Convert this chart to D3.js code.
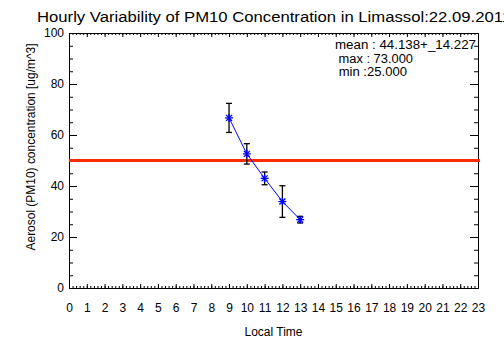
<html>
<script src='https://cdnjs.cloudflare.com/ajax/libs/d3/7.8.5/d3.min.js'></script>
<style>
 body {margin:0; background:white;}
 text {font-family: 'Liberation Sans', sans-serif; fill: black;}
 .domain {stroke: black;}
 .tick line {stroke: black;}
</style>
<body onload='init()'>
<svg width=504 height=361></svg>
<script>
// data
var hours = [9, 10, 11, 12, 13];
var pm10 = [66.7, 52.6, 43.0, 33.9, 26.8];
var errs = [5.7, 4.0, 2.5, 6.2, 1.3];
var limitValue = 50;
var xTicks = d3.range(0, 24);
var yTicks = [0, 20, 40, 60, 80, 100];
var title = 'Hourly Variability of PM10 Concentration in Limassol:22.09.2011';
var statsLines = ['mean : 44.138+_14.227', ' max : 73.000', ' min :25.000'];
var statsWidths = [141, 78, 72];

function init() {
	var svg = d3.select('svg');
	var left = 69, right = 478, top = 33, bottom = 288;

	var x = d3.scaleLinear().domain([0, 23]).range([left, right]);
	var y = d3.scaleLinear().domain([0, 100]).range([bottom, top]);

	var minorX = d3.range(0, 23.001, 0.2);
	var minorY = d3.range(0, 100.001, 5);

	// bottom axis: ticks pointing inward
	svg.append('g').attr('transform', 'translate(0,' + bottom + ')')
		.call(d3.axisBottom(x).tickValues(minorX).tickSizeInner(-2).tickSizeOuter(0).tickFormat(''));
	svg.append('g').attr('transform', 'translate(0,' + bottom + ')')
		.call(d3.axisBottom(x).tickValues(xTicks).tickSizeInner(-4).tickSizeOuter(0).tickFormat(''));
	// top axis
	svg.append('g').attr('transform', 'translate(0,' + top + ')')
		.call(d3.axisTop(x).tickValues(minorX).tickSizeInner(-2).tickSizeOuter(0).tickFormat(''));
	svg.append('g').attr('transform', 'translate(0,' + top + ')')
		.call(d3.axisTop(x).tickValues(xTicks).tickSizeInner(-4).tickSizeOuter(0).tickFormat(''));
	// left axis
	svg.append('g').attr('transform', 'translate(' + left + ',0)')
		.call(d3.axisLeft(y).tickValues(minorY).tickSizeInner(-4).tickSizeOuter(0).tickFormat(''));
	svg.append('g').attr('transform', 'translate(' + left + ',0)')
		.call(d3.axisLeft(y).tickValues(yTicks).tickSizeInner(-8).tickSizeOuter(0).tickFormat(''));
	// right axis
	svg.append('g').attr('transform', 'translate(' + right + ',0)')
		.call(d3.axisRight(y).tickValues(minorY).tickSizeInner(-4).tickSizeOuter(0).tickFormat(''));
	svg.append('g').attr('transform', 'translate(' + right + ',0)')
		.call(d3.axisRight(y).tickValues(yTicks).tickSizeInner(-8).tickSizeOuter(0).tickFormat(''));

	// labels
	var xl = svg.append('g').attr('transform', 'translate(0,' + (bottom + 15) + ')')
		.call(d3.axisBottom(x).tickValues(xTicks).tickSize(0).tickPadding(0));
	xl.select('.domain').remove();
	xl.selectAll('text').attr('font-size', 12).attr('font-family', "'Liberation Sans', sans-serif");
	var yl = svg.append('g').attr('transform', 'translate(' + (left - 5) + ',0)')
		.call(d3.axisLeft(y).tickValues(yTicks).tickSize(0).tickPadding(0));
	yl.select('.domain').remove();
	yl.selectAll('text').attr('font-size', 12).attr('font-family', "'Liberation Sans', sans-serif");

	// limit line
	svg.append('line')
		.attr('x1', x(0)).attr('x2', x(23) + 2)
		.attr('y1', y(limitValue)).attr('y2', y(limitValue))
		.attr('stroke', '#ff2a00').attr('stroke-width', 3);

	var pts = hours.map(function (h, i) { return {h: h, v: pm10[i], e: errs[i]}; });

	// connecting line
	svg.append('path')
		.datum(pts)
		.attr('fill', 'none').attr('stroke', 'blue').attr('stroke-width', 1)
		.attr('d', d3.line().x(function (d) { return x(d.h); }).y(function (d) { return y(d.v); }));

	// error bars
	var eb = svg.append('g').attr('stroke', 'black').attr('stroke-width', 1.3);
	pts.forEach(function (d) {
		eb.append('line').attr('x1', x(d.h)).attr('x2', x(d.h)).attr('y1', y(d.v - d.e)).attr('y2', y(d.v + d.e));
		eb.append('line').attr('x1', x(d.h) - 3).attr('x2', x(d.h) + 3).attr('y1', y(d.v - d.e)).attr('y2', y(d.v - d.e));
		eb.append('line').attr('x1', x(d.h) - 3).attr('x2', x(d.h) + 3).attr('y1', y(d.v + d.e)).attr('y2', y(d.v + d.e));
	});

	// asterisk markers
	var mk = svg.append('g').attr('stroke', 'blue').attr('stroke-width', 1.3);
	pts.forEach(function (d) {
		var cx = x(d.h), cy = y(d.v), r = 4;
		mk.append('line').attr('x1', cx - r).attr('x2', cx + r).attr('y1', cy).attr('y2', cy);
		mk.append('line').attr('x1', cx).attr('x2', cx).attr('y1', cy - r).attr('y2', cy + r);
		mk.append('line').attr('x1', cx - r * 0.75).attr('x2', cx + r * 0.75).attr('y1', cy - r * 0.75).attr('y2', cy + r * 0.75);
		mk.append('line').attr('x1', cx - r * 0.75).attr('x2', cx + r * 0.75).attr('y1', cy + r * 0.75).attr('y2', cy - r * 0.75);
	});

	// title
	svg.append('text').attr('x', 37).attr('y', 22).attr('font-size', 14)
		.attr('textLength', 474).attr('lengthAdjust', 'spacingAndGlyphs')
		.text(title);

	// axis titles
	svg.append('text').attr('x', (left + right) / 2).attr('y', 336).attr('font-size', 12)
		.attr('text-anchor', 'middle').text('Local Time');
	svg.append('text').attr('transform', 'translate(35,147) rotate(-90)')
		.attr('font-size', 12).attr('text-anchor', 'middle')
		.attr('textLength', 207).attr('lengthAdjust', 'spacingAndGlyphs')
		.text('Aerosol (PM10) concentration [ug/m^3]');

	// stats
	svg.selectAll('.stat').data(statsLines).enter().append('text')
		.attr('class', 'stat')
		.attr('x', 335).attr('y', function (d, i) { return 49 + i * 13.5; })
		.attr('font-size', 12).attr('xml:space', 'preserve').style('white-space', 'pre')
		.attr('textLength', function (d, i) { return statsWidths[i]; })
		.attr('lengthAdjust', 'spacingAndGlyphs')
		.text(function (d) { return d; });
}
</script>
</body>
</html>
